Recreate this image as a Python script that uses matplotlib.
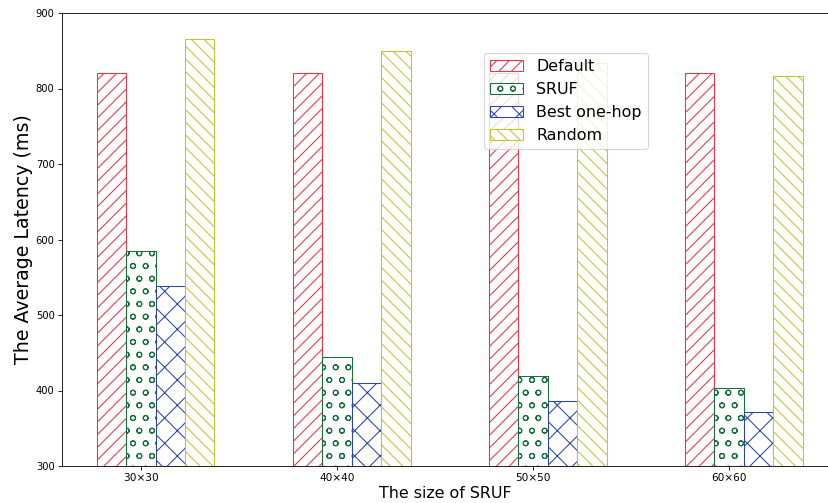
import numpy as np
import matplotlib
matplotlib.use('Agg')
import matplotlib.pyplot as plt

sizes = ['30×30', '40×40', '50×50', '60×60']
default_lat = [820, 820, 820, 820]
sruf_lat = [585, 444, 419, 403]
best_lat = [539, 410, 386, 372]
random_lat = [866, 850, 834, 817]

series = [
    ('Default', default_lat, '#ee3344', '//'),
    ('SRUF', sruf_lat, '#16703a', 'o'),
    ('Best one-hop', best_lat, '#2b45aa', 'x'),
    ('Random', random_lat, '#c0c632', '\\\\'),
]

plt.rcParams['hatch.linewidth'] = 1.0

fig = plt.figure(figsize=(828 / 76, 503 / 76), dpi=76)
ax = fig.add_axes([62 / 828, 1 - 466 / 503, 766 / 828, 453 / 503])

x = np.arange(len(sizes))
width = 0.15
offsets = [-0.15, 0.0, 0.15, 0.30]

for (name, vals, color, hatch), off in zip(series, offsets):
    ax.bar(x + off, np.array(vals) - 300, width, bottom=300, label=name,
           facecolor='white', edgecolor=color, hatch=hatch, linewidth=1.0)

ax.set_ylim(300, 900)
ax.set_xlim(-0.403, 3.505)
ax.spines['right'].set_visible(False)
ax.set_xticks(x)
ax.set_xticklabels(sizes, fontsize=10)
ax.set_yticks(range(300, 901, 100))
ax.tick_params(axis='y', labelsize=9.5)
ax.set_xlabel('The size of SRUF', fontsize=15, labelpad=2)
ax.set_ylabel('The Average Latency (ms)', fontsize=18, labelpad=3)

ax.legend(loc='upper right', bbox_to_anchor=(0.765, 0.912), borderaxespad=0,
          fontsize=15, handlelength=2.1, handletextpad=0.8, labelspacing=0.5)

fig.savefig('out.png', dpi=76)
